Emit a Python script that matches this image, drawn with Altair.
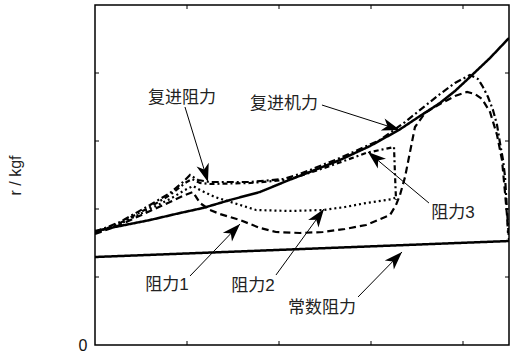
import math
import altair as alt
import pandas as pd

X_MAX = 450
Y_MAX = 5
W, H = 414, 340

# 复进机力 (solid)
force_x = [0, 27.2, 59.8, 92.4, 117.4, 146.7, 179.3, 210.9, 239.1, 266.3, 298.9, 330.4, 353.3, 375.0, 391.3, 407.6, 429.4, 450.0]
force_y = [1.676, 1.75, 1.838, 1.941, 2.015, 2.132, 2.25, 2.426, 2.574, 2.721, 2.926, 3.162, 3.368, 3.559, 3.735, 3.941, 4.221, 4.515]

# 常数阻力 (solid)
const_x = [0, 450]
const_y = [1.294, 1.529]

# 复进阻力 (dash-dot)
recoil_x = [0, 27.2, 59.8, 81.5, 95.7, 103.3, 112.0, 125.0, 168.5, 204.3, 222.8, 266.3, 309.8, 337.0, 358.7, 375.0, 391.3, 407.6, 416.3, 421.7, 427.2, 432.6, 437.0, 440.2, 443.5, 445.7, 447.8, 450.0]
recoil_y = [1.662, 1.809, 2.059, 2.235, 2.397, 2.5, 2.426, 2.397, 2.397, 2.441, 2.515, 2.75, 3.015, 3.279, 3.515, 3.691, 3.853, 3.971, 3.912, 3.794, 3.647, 3.456, 3.235, 2.971, 2.721, 2.471, 1.985, 1.544]

# 阻力3 (dash-dot)
r3_x = [0, 27.2, 59.8, 81.5, 97.8, 105.4, 114.1, 125.0, 168.5, 206.5, 222.8, 255.4, 294.6, 325.0, 326.1, 327.2]
r3_y = [1.647, 1.794, 2.029, 2.206, 2.382, 2.441, 2.382, 2.368, 2.382, 2.426, 2.485, 2.632, 2.824, 2.912, 2.5, 2.132]

# 阻力1 (dashed)
r1_x = [0, 27.2, 59.8, 81.5, 97.8, 106.5, 114.1, 125.0, 135.9, 157.6, 179.3, 196.7, 222.8, 247.8, 271.7, 294.6, 320.7, 327.2, 331.5, 337.0, 342.4, 347.8, 358.7, 375.0, 391.3, 404.4, 413.0, 420.7, 429.4, 437.0, 442.4, 445.7, 447.8, 448.9]
r1_y = [1.632, 1.765, 1.971, 2.103, 2.206, 2.25, 2.088, 1.985, 1.926, 1.838, 1.721, 1.662, 1.647, 1.662, 1.706, 1.765, 1.912, 2.059, 2.206, 2.471, 2.838, 3.206, 3.412, 3.544, 3.662, 3.721, 3.691, 3.618, 3.426, 3.088, 2.721, 2.235, 1.912, 1.647]

# 阻力2 (dotted)
r2_x = [0, 27.2, 59.8, 81.5, 97.8, 106.5, 114.1, 130.4, 157.6, 175.0, 212.0, 247.8, 271.7, 294.6, 323.9, 327.2]
r2_y = [1.647, 1.779, 2.0, 2.147, 2.279, 2.338, 2.279, 2.176, 2.059, 1.985, 1.971, 1.985, 2.029, 2.088, 2.147, 2.176]

series = [
    ("复进机力", force_x, force_y, [1, 0], 2.5),
    ("常数阻力", const_x, const_y, [1, 0], 2.5),
    ("复进阻力", recoil_x, recoil_y, [7, 3, 2, 3], 2.2),
    ("阻力3", r3_x, r3_y, [5, 3, 2, 3], 2.2),
    ("阻力1", r1_x, r1_y, [7, 4], 2.2),
    ("阻力2", r2_x, r2_y, [2, 3], 2.2),
]

# annotations: label, text x/y, arrow start x/y, arrow tip x/y
ann_label = ["复进阻力", "复进机力", "阻力1", "阻力2", "阻力3", "常数阻力"]
ann_tx = [94.6, 205.4, 78.3, 171.7, 389.1, 246.7]
ann_ty = [3.632, 3.544, 0.882, 0.868, 1.941, 0.544]
ann_x1 = [97.8, 246.7, 103.3, 196.7, 363.0, 285.9]
ann_y1 = [3.5, 3.529, 1.015, 1.029, 2.088, 0.706]
ann_x2 = [122.8, 331.5, 157.6, 248.9, 296.7, 333.7]
ann_y2 = [2.397, 3.162, 1.779, 2.0, 2.838, 1.368]

x_ticks = [100, 200, 300, 400]
y_ticks = [1, 2, 3, 4]

xs = alt.Scale(domain=[0, X_MAX], nice=False, zero=False)
ys = alt.Scale(domain=[0, Y_MAX], nice=False, zero=False)

yax = alt.Axis(values=[0], ticks=False, domain=False, grid=False,
               labelFontSize=16, labelFont="Liberation Sans", labelColor="#111",
               labelPadding=8, title="r / kgf", titleFont="Liberation Sans",
               titleFontSize=16, titleFontWeight="normal", titleColor="#222",
               titleAngle=270, titleX=-80, titleY=H / 2, titleAlign="center",
               titleBaseline="middle")


def Y(field):
    return alt.Y(field, scale=ys, axis=yax)


layers = []
for name, sx, sy, dash, sw in series:
    d = pd.DataFrame({"x": sx, "y": sy, "i": list(range(len(sx)))})
    layers.append(
        alt.Chart(d).mark_line(color="black", strokeDash=dash, strokeWidth=sw, clip=True).encode(
            x=alt.X("x:Q", scale=xs, axis=None),
            y=Y("y:Q"),
            order="i:Q",
        )
    )


def ang(x1, y1, x2, y2):
    dx = (x2 - x1) * W / X_MAX
    dy = -(y2 - y1) * H / Y_MAX
    return math.degrees(math.atan2(dx, -dy)) % 360


ann = pd.DataFrame({
    "label": ann_label, "tx": ann_tx, "ty": ann_ty,
    "x1": ann_x1, "y1": ann_y1, "x2": ann_x2, "y2": ann_y2,
})
ann["ang"] = [ang(a, b, c, d) for a, b, c, d in zip(ann_x1, ann_y1, ann_x2, ann_y2)]

arrows = alt.Chart(ann).mark_rule(color="black", strokeWidth=1).encode(
    x=alt.X("x1:Q", scale=xs, axis=None), y=Y("y1:Q"),
    x2="x2:Q", y2="y2:Q",
)
heads = alt.Chart(ann).mark_point(
    shape="M0,0L-0.7,2L0,1.45L0.7,2Z", filled=True, color="black", opacity=1, size=330
).encode(
    x=alt.X("x2:Q", scale=xs, axis=None), y=Y("y2:Q"),
    angle=alt.Angle("ang:Q", scale=None),
)
texts = alt.Chart(ann).mark_text(
    font="Liberation Sans, Noto Sans CJK SC", fontSize=17, color="#222",
    align="center", baseline="middle"
).encode(
    x=alt.X("tx:Q", scale=xs, axis=None), y=Y("ty:Q"),
    text="label:N",
)

ydf = pd.DataFrame({"v": y_ticks})
xdf = pd.DataFrame({"v": x_ticks})
tick_l = alt.Chart(ydf).mark_rule(color="black", strokeWidth=1).encode(
    y=Y("v:Q"), x=alt.value(0), x2=alt.value(4))
tick_r = alt.Chart(ydf).mark_rule(color="black", strokeWidth=1).encode(
    y=Y("v:Q"), x=alt.value(W - 4), x2=alt.value(W))
tick_t = alt.Chart(xdf).mark_rule(color="black", strokeWidth=1).encode(
    x=alt.X("v:Q", scale=xs, axis=None), y=alt.value(0), y2=alt.value(4))
tick_b = alt.Chart(xdf).mark_rule(color="black", strokeWidth=1).encode(
    x=alt.X("v:Q", scale=xs, axis=None), y=alt.value(H - 4), y2=alt.value(H))

chart = alt.layer(*layers, arrows, heads, texts, tick_l, tick_r, tick_t, tick_b).properties(
    width=W, height=H,
    autosize=alt.AutoSizeParams(type="none"),
    padding={"left": 95, "top": 5, "right": 7, "bottom": 7},
    background="white",
).configure_view(stroke="black", strokeWidth=1.5)

chart.save("out.html", embed_options={"renderer": "svg", "actions": False})
